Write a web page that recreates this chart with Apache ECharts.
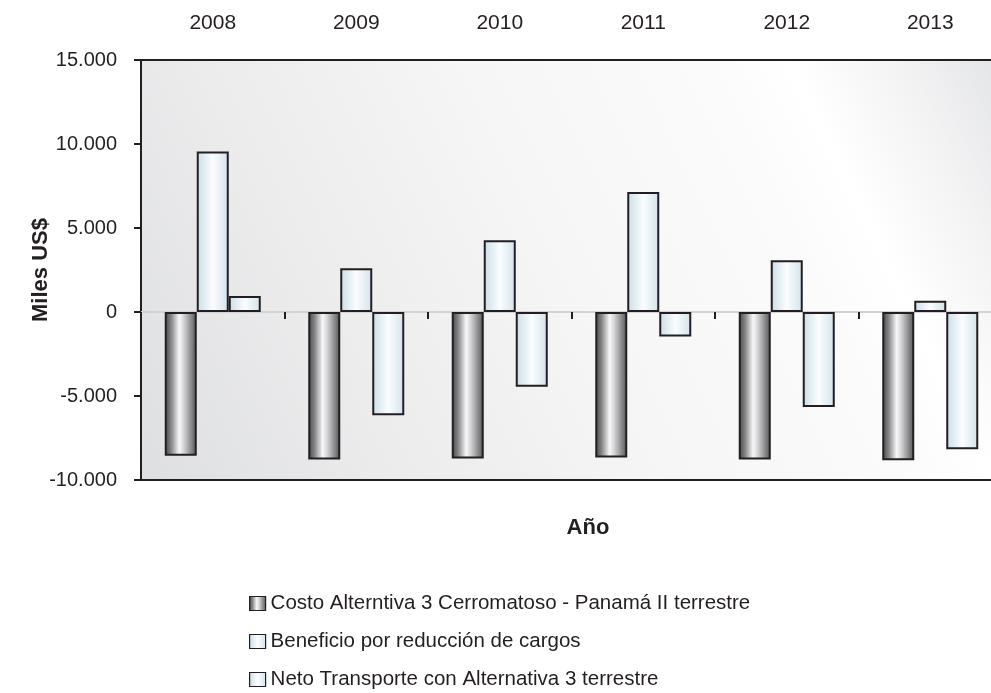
<!DOCTYPE html>
<html>
<head>
<meta charset="utf-8">
<script src="https://cdn.jsdelivr.net/npm/echarts@6/dist/echarts.min.js"></script>
<style>
  html, body { margin: 0; padding: 0; background: #fff; overflow: hidden; }
  #chart { width: 1010px; height: 693px; }
</style>
</head>
<body>
<div id="chart"></div>
<script>
var years = ['2008', '2009', '2010', '2011', '2012', '2013'];
var costo = [-8550, -8780, -8720, -8660, -8780, -8820];
var beneficio = [9550, 2600, 4270, 7150, 3080, 670];
var neto = [950, -6150, -4450, -1460, -5650, -8170];
var seriesNames = [
  'Costo Alterntiva 3 Cerromatoso - Panamá II terrestre',
  'Beneficio por reducción de cargos',
  'Neto Transporte con Alternativa 3 terrestre'
];

var FONT = '"Liberation Sans", Arial, sans-serif';
var INK = '#231f20';

function miles(v) {
  var s = String(Math.abs(v)).replace(/\B(?=(\d{3})+(?!\d))/g, '.');
  return (v < 0 ? '-' : '') + s;
}

// relleno tipo cilindro
var grayFill = new echarts.graphic.LinearGradient(0, 0, 1, 0, [
  {offset: 0, color: '#444446'},
  {offset: 0.2, color: '#858587'},
  {offset: 0.45, color: '#f8f8f8'},
  {offset: 0.6, color: '#d2d2d4'},
  {offset: 0.85, color: '#828284'},
  {offset: 1, color: '#505052'}
]);
function blueFill() {
  return new echarts.graphic.LinearGradient(0, 0, 1, 0, [
    {offset: 0, color: '#cbdde8'},
    {offset: 0.5, color: '#fbfdfe'},
    {offset: 1, color: '#d1e2eb'}
  ]);
}

function barSeries(name, data, fill) {
  return {
    name: name,
    type: 'bar',
    xAxisIndex: 0,
    data: data,
    barWidth: 32,
    barGap: '0%',
    itemStyle: {color: fill, borderColor: INK, borderWidth: 2},
    emphasis: {disabled: true}
  };
}

var myChart = echarts.init(document.getElementById('chart'));
var option = {
  animation: false,
  textStyle: {fontFamily: FONT},
  grid: {
    left: 141, top: 60, width: 861, height: 420,
    outerBoundsMode: 'none',
    containLabel: false,
    show: true,
    borderColor: INK,
    borderWidth: 2,
    backgroundColor: new echarts.graphic.LinearGradient(0, 1, 1, 0, [
      {offset: 0, color: '#dedfe1'},
      {offset: 0.25, color: '#ececed'},
      {offset: 0.5, color: '#f6f6f6'},
      {offset: 0.72, color: '#fbfbfb'},
      {offset: 0.8, color: '#ffffff'},
      {offset: 0.9, color: '#f3f3f4'},
      {offset: 1, color: '#e3e4e6'}
    ])
  },
  title: {
    text: 'Año',
    left: 583, top: 512,
    textAlign: 'center',
    textStyle: {fontFamily: FONT, fontSize: 22, fontWeight: 'bold', color: INK}
  },
  legend: {
    orient: 'vertical',
    left: 249, top: 593,
    padding: 0,
    itemWidth: 16, itemHeight: 14,
    itemGap: 17,
    icon: 'rect',
    selectedMode: false,
    data: seriesNames,
    itemStyle: {borderColor: INK, borderWidth: 1.2},
    textStyle: {fontFamily: FONT, fontSize: 20.5, color: INK}
  },
  xAxis: [
    {
      type: 'category',
      position: 'top',
      data: years,
      axisLine: {onZero: false, lineStyle: {color: INK, width: 2}},
      axisTick: {show: false},
      axisLabel: {fontSize: 21, color: INK, margin: 26},
      splitLine: {show: false}
    },
    {
      type: 'category',
      position: 'bottom',
      data: years,
      axisLine: {onZero: true, lineStyle: {color: '#d2d3d5', width: 2}},
      axisTick: {show: true, interval: 0, length: 7, lineStyle: {color: INK, width: 2}},
      axisLabel: {show: false},
      splitLine: {show: false}
    }
  ],
  yAxis: {
    type: 'value',
    min: -10000, max: 15000, interval: 5000,
    name: 'Miles US$',
    nameLocation: 'middle',
    nameGap: 89,
    nameMoveOverlap: false,
    nameTextStyle: {fontFamily: FONT, fontSize: 22, fontWeight: 'bold', color: INK},
    axisLine: {show: true, onZero: false, lineStyle: {color: INK, width: 2}},
    axisTick: {show: true, length: 7, lineStyle: {color: INK, width: 2}},
    axisLabel: {fontSize: 20, color: INK, margin: 24, formatter: miles},
    splitLine: {show: false}
  },
  series: [
    barSeries(seriesNames[0], costo, grayFill),
    barSeries(seriesNames[1], beneficio, blueFill()),
    barSeries(seriesNames[2], neto, blueFill())
  ]
};
myChart.setOption(option);
</script>
</body>
</html>
